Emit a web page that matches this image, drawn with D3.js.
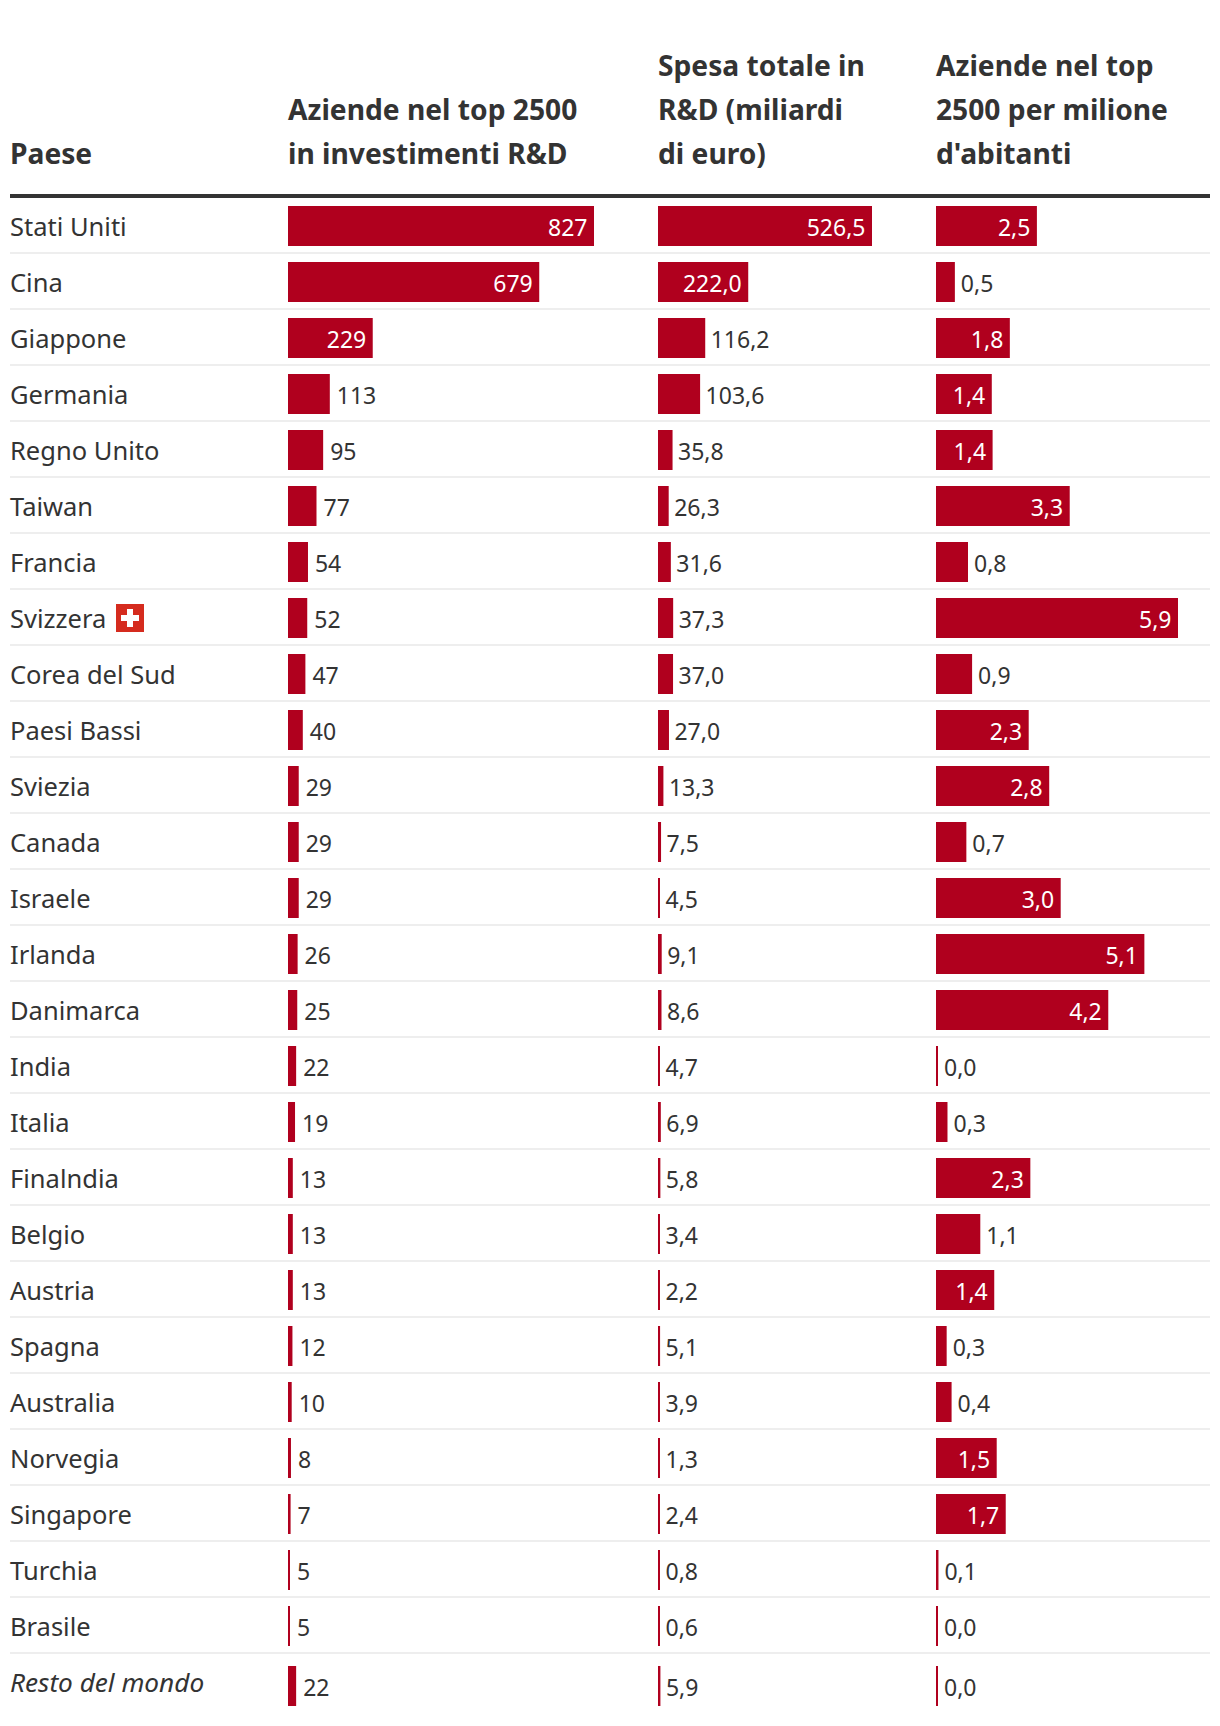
<!DOCTYPE html>
<html><head><meta charset="utf-8">
<script src="https://cdnjs.cloudflare.com/ajax/libs/d3/7.8.5/d3.min.js"></script>
<style>html,body{margin:0;padding:0;background:#fff}svg{display:block}text{font-family:"Noto Sans",sans-serif;fill:#333}</style>
</head><body><script>
const countries=["Stati Uniti","Cina","Giappone","Germania","Regno Unito","Taiwan","Francia","Svizzera","Corea del Sud","Paesi Bassi","Sviezia","Canada","Israele","Irlanda","Danimarca","India","Italia","Finalndia","Belgio","Austria","Spagna","Australia","Norvegia","Singapore","Turchia","Brasile","Resto del mondo"];
const companies=[827,679,229,113,95,77,54,52,47,40,29,29,29,26,25,22,19,13,13,13,12,10,8,7,5,5,22];
const spending=[526.5,222.0,116.2,103.6,35.8,26.3,31.6,37.3,37.0,27.0,13.3,7.5,4.5,9.1,8.6,4.7,6.9,5.8,3.4,2.2,5.1,3.9,1.3,2.4,0.8,0.6,5.9];
const perMillion=[2.46,0.46,1.8,1.36,1.38,3.26,0.78,5.9,0.88,2.26,2.76,0.74,3.04,5.08,4.2,0.04,0.28,2.3,1.08,1.42,0.26,0.38,1.48,1.7,0.06,0.04,0.04];
const headers=[["Paese"],["Aziende nel top 2500","in investimenti R&D"],["Spesa totale in","R&D (miliardi","di euro)"],["Aziende nel top","2500 per milione","d'abitanti"]];
const W=1220,H=1726,red="#b0001e",ink="#333",rule="#eeeeee";
const svg=d3.select("body").append("svg").attr("width",W).attr("height",H);
const x0=10,xEnd=1210,rowStep=56,rowTop=206,barH=40,labelBase=30;
const colX=[10,288,658,936];
const y=d3.scaleLinear().domain([0,countries.length]).range([rowTop,rowTop+rowStep*countries.length]);
const columns=[
 {values:companies,x:colX[1],gap:7,scale:d3.scaleLinear().domain([0,827]).range([0,306]),fmt:d=>String(d)},
 {values:spending,x:colX[2],gap:5.5,scale:d3.scaleLinear().domain([0,526.5]).range([0,214]),fmt:d=>d3.format(".1f")(d).replace(".",",")},
 {values:perMillion,x:colX[3],gap:6,scale:d3.scaleLinear().domain([0,5.9]).range([0,242]),fmt:d=>d3.format(".1f")(d).replace(".",",")}
];
headers.forEach((lines,c)=>{
 const base=164-(lines.length-1)*44;
 svg.append("g").selectAll("text").data(lines).join("text")
  .attr("x",colX[c]).attr("y",(d,i)=>base+i*44)
  .attr("font-size",28.2).attr("font-weight",700).text(d=>d);
});
svg.append("rect").attr("x",x0).attr("y",194).attr("width",xEnd-x0).attr("height",4).attr("fill",ink);
svg.append("g").selectAll("rect").data(d3.range(countries.length-1)).join("rect")
 .attr("x",x0).attr("width",xEnd-x0).attr("height",2).attr("fill",rule)
 .attr("y",i=>y(i)+46);
const last=countries.length-1;
svg.append("g").selectAll("text").data(countries).join("text")
 .attr("x",x0).attr("y",(d,i)=>y(i)+labelBase)
 .attr("font-size",(d,i)=>i===last?26.2:25.5).attr("font-style",(d,i)=>i===last?"italic":"normal").text(d=>d);
const shift=i=>i===last?4:0;
columns.forEach(col=>{
 const g=svg.append("g"),w=v=>Math.max(2,col.scale(v));
 g.selectAll("rect").data(col.values).join("rect")
  .attr("x",col.x).attr("y",(d,i)=>y(i)+shift(i)).attr("height",barH).attr("width",w).attr("fill",red);
 g.selectAll("text").data(col.values).join("text")
  .attr("x",d=>w(d)>=50?col.x+w(d)-6.5:col.x+w(d)+col.gap)
  .attr("y",(d,i)=>y(i)+labelBase+shift(i))
  .attr("text-anchor",d=>w(d)>=50?"end":"start")
  .attr("font-size",23)
  .style("fill",d=>w(d)>=50?"#fff":ink).text(col.fmt);
});
const flag=svg.append("g").attr("transform",`translate(116,${y(7)+6})`);
flag.append("rect").attr("width",28).attr("height",28).attr("fill","#d52b1e");
flag.append("rect").attr("x",5).attr("y",11).attr("width",18).attr("height",6).attr("fill","#fff");
flag.append("rect").attr("x",11).attr("y",5).attr("width",6).attr("height",18).attr("fill","#fff");
</script></body></html>
